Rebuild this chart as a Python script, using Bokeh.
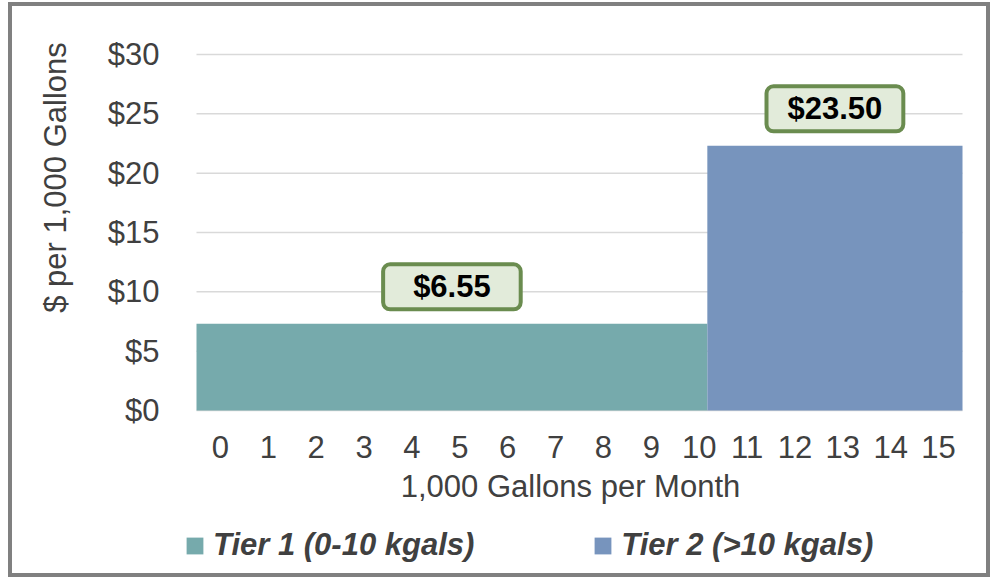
import math
from bokeh.plotting import figure
from bokeh.models import (ColumnDataSource, FixedTicker, NumeralTickFormatter,
                          Label, Legend, LegendItem, Range1d)
from bokeh.embed import file_html
from bokeh.resources import INLINE

# ---- data ----
kgal_ticks = list(range(0, 16))
rate_ticks = [0, 5, 10, 15, 20, 25, 30]
tier_names = ["Tier 1 (0-10 kgals)", "Tier 2 (>10 kgals)"]
tier_start = [-0.5, 10.17]
tier_end = [10.17, 15.5]
tier_rate = [7.3, 22.3]
tier_label = ["$6.55", "$23.50"]
tier_color = ["#76AAAC", "#7794BD"]
x_title = "1,000 Gallons per Month"
y_title = "$ per 1,000 Gallons"

FONT = "Liberation Sans"
TEXT = "#404040"
FSIZE = 31
FS = f"{FSIZE}px"

# ---- layout (pixels) ----
W, H = 982, 575            # canvas size
PLOT_L, PLOT_R = 184, 950  # plot area inside canvas
PLOT_T, PLOT_B = 48, 404
x_lo, x_hi = -0.5, 15.5
y_lo, y_hi = 0, 30
xpx = (PLOT_R - PLOT_L) / (x_hi - x_lo)
ypx = (PLOT_B - PLOT_T) / (y_hi - y_lo)
x_range = Range1d(x_lo - PLOT_L / xpx, x_lo + (W - PLOT_L) / xpx)
y_range = Range1d(y_lo - (H - PLOT_B) / ypx, y_lo + PLOT_B / ypx)

p = figure(width=W, height=H, x_range=x_range, y_range=y_range,
           output_backend="svg", toolbar_location=None, min_border=0)
p.styles = {"border": "4px solid #808080", "margin-top": "2px", "margin-left": "8px"}
p.outline_line_color = None
p.background_fill_color = "white"
p.border_fill_color = "white"
p.xgrid.visible = False
p.ygrid.visible = False

# horizontal gridlines limited to the plot area
p.segment(x0=[x_lo] * len(rate_ticks), x1=[x_hi] * len(rate_ticks),
          y0=rate_ticks, y1=rate_ticks, line_color="#D9D9D9", line_width=1.5)

src = ColumnDataSource(dict(left=tier_start, right=tier_end, top=tier_rate,
                            bottom=[0] * len(tier_rate), color=tier_color, name=tier_names))
r = p.quad(left="left", right="right", top="top", bottom="bottom",
           fill_color="color", line_color=None, source=src)

# axes drawn at fixed positions inside the plot
p.yaxis.ticker = FixedTicker(ticks=rate_ticks)
p.yaxis.formatter = NumeralTickFormatter(format="$0")
p.xaxis.ticker = FixedTicker(ticks=kgal_ticks)
p.xaxis.fixed_location = y_lo
p.yaxis.fixed_location = x_lo
p.xaxis.bounds = (x_lo, x_hi)
p.yaxis.bounds = (y_lo, y_hi)
for ax in (p.xaxis, p.yaxis):
    ax.axis_line_color = None
    ax.major_tick_line_color = None
    ax.minor_tick_line_color = None
    ax.major_tick_out = 0
    ax.major_tick_in = 0
    ax.minor_tick_out = 0
    ax.minor_tick_in = 0
    ax.major_label_text_font = FONT
    ax.major_label_text_font_size = FS
    ax.major_label_text_color = TEXT
p.yaxis.major_label_standoff = 37
p.xaxis.major_label_standoff = 25

# axis titles
p.add_layout(Label(x=558, y=95, x_units="screen", y_units="screen", text=x_title,
                   text_align="center", text_baseline="alphabetic",
                   text_font=FONT, text_font_size=FS, text_color=TEXT))
p.add_layout(Label(x=43, y=404, x_units="screen", y_units="screen", text=y_title,
                   angle=math.pi / 2, text_align="center", text_baseline="alphabetic",
                   text_font=FONT, text_font_size=FS, text_color=TEXT))

# value labels in fixed-width boxes
BOX_INNER = 137
for i in range(len(tier_rate)):
    est_w = sum(0.278 if c == "." else 0.556 for c in tier_label[i]) * FSIZE
    pad_x = max(4, int(round((BOX_INNER - est_w) / 2)))
    p.add_layout(Label(x=(tier_start[i] + tier_end[i]) / 2, y=tier_rate[i], y_offset=37,
                       text=tier_label[i], text_align="center", text_baseline="middle",
                       text_font=FONT, text_font_size=FS, text_font_style="bold",
                       text_color="black",
                       background_fill_color="#E2EBDA",
                       border_line_color="#6A8C4F", border_line_width=4,
                       border_radius=7,
                       padding=dict(left=pad_x, right=pad_x, top=5, bottom=5)))

legend = Legend(items=[LegendItem(label=tier_names[i], renderers=[r], index=i)
                       for i in range(len(tier_names))],
                orientation="horizontal", location=(172, 18),
                glyph_width=21, glyph_height=21, label_standoff=8, spacing=118,
                padding=0, margin=0, border_line_color=None, background_fill_alpha=0,
                label_text_font=FONT, label_text_font_style="bold italic",
                label_text_font_size=FS, label_text_color=TEXT)
p.add_layout(legend)

open("out.html", "w").write(file_html(p, INLINE))
